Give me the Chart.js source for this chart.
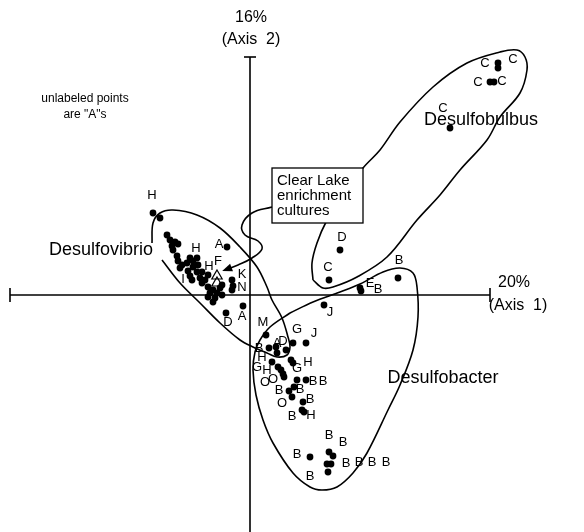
<!DOCTYPE html>
<html>
<head>
<meta charset="utf-8">
<script src="https://cdn.jsdelivr.net/npm/chart.js@4.4.0/dist/chart.umd.min.js"></script>
<style>
  html, body { margin: 0; padding: 0; background: #fff; }
</style>
</head>
<body>
<canvas id="plot" width="584" height="532"></canvas>
<script>
// ordination scores (axis 1 = x, axis 2 = y)
var vibrioX = [-97, -90, -83, -80, -75, -72, -78, -77, -73, -72, -68, -70, -63, -60, -57, -53, -52, -57, -62, -53, -48, -50, -45, -42, -48, -42, -37, -40, -33, -30, -42, -35, -28, -28, -37, -58, -60, -23, -18, -17, -18, -24, -7];
var vibrioY = [82, 77, 60, 55, 53, 51, 49, 45, 39, 34, 30, 27, 32, 37, 34, 37, 30, 28, 24, 23, 23, 17, 15, 20, 12, 8, 5, 2, 2, 7, -2, -3, 0, 10, -7, 15, 19, 48, 15, 9, 5, -18, -11];

var bulbusX = [248, 248, 240, 244, 200, 90, 79, 148, 110, 111, 74];
var bulbusY = [232, 227, 213, 213, 167, 45, 15, 17, 7, 4, -10];

var bacterX = [56, 16, 19, 26, 27, 36, 43, 22, 28, 31, 33, 34, 41, 43, 47, 56, 39, 44, 42, 53, 52, 54, 60, 79, 83, 77, 81, 78];
var bacterY = [-48, -40, -53, -52, -58, -55, -48, -67, -72, -75, -79, -82, -65, -68, -85, -85, -96, -92, -102, -107, -115, -117, -162, -157, -161, -169, -169, -177];

// Clear Lake enrichment cultures (open triangles)
var cultureX = [-33, -33];
var cultureY = [19, 12];

// group letters
var labelText = ['C', 'C', 'C', 'C', 'C', 'D', 'C', 'B', 'E', 'B', 'J',
  'H', 'H', 'A', 'H', 'F', 'K', 'N', 'I', 'D', 'A',
  'M', 'G', 'J', 'B', 'A', 'D', 'H', 'G', 'H', 'G', 'H', 'O', 'O', 'B', 'B', 'B', 'B', 'O', 'B', 'B', 'H',
  'B', 'B', 'B', 'B', 'B', 'B', 'B', 'B'];
var labelX = [235, 263, 228, 252, 193, 92, 78, 149, 120, 128, 80,
  -98, -54, -31, -41, -32, -8, -8, -67, -22, -8,
  13, 47, 64, 9, 27, 33, 12, 7, 17, 47, 58, 15, 23, 63, 73, 29, 50, 32, 60, 42, 61,
  79, 93, 47, 96, 109, 122, 136, 60];
var labelY = [232, 236, 213, 214, 187, 58, 28, 35, 12, 6, -17,
  100, 47, 51, 29, 34, 21, 8, 16, -27, -21,
  -27, -34, -38, -53, -48, -46, -62, -72, -75, -73, -67, -87, -84, -86, -86, -95, -94, -108, -104, -121, -120,
  -140, -147, -159, -168, -167, -167, -167, -181];

// group outlines
var vibrioLineX = [-98, -97, -90, -77, -53, -30, -10, 7, 17, 22, 32, 38, 40, 37, 27, 17, 3, -10, -30, -50, -70, -88];
var vibrioLineY = [52, 72, 82, 85, 80, 67, 48, 28, 8, -5, -23, -42, -52, -60, -62, -58, -52, -45, -28, -8, 12, 35];

var bulbusLineX = [63, 62, 67, 77, 90, 113, 130, 150, 183, 217, 250, 267, 275, 277, 270, 250, 237, 210, 190, 167, 137, 107, 83, 73, 63];
var bulbusLineY = [15, 32, 52, 75, 95, 127, 145, 173, 208, 232, 243, 245, 238, 225, 202, 178, 155, 125, 100, 75, 38, 18, 8, 7, 15];

var bacterLineX = [40, 63, 90, 110, 133, 150, 163, 167, 168, 163, 150, 138, 117, 103, 87, 72, 60, 43, 23, 13, 6, 3, 5, 10, 20, 40];
var bacterLineY = [-18, -7, 3, 11, 23, 27, 22, 8, -22, -55, -90, -115, -158, -178, -192, -195, -192, -178, -148, -125, -100, -75, -57, -45, -32, -18];

var arrowX = [22, 2, -8, -5, 8, 12, 2, -12, -25];
var arrowY = [88, 82, 70, 60, 54, 46, 37, 30, 25];

function pts(xs, ys) {
  return xs.map(function(x, i) { return { x: x, y: ys[i] }; });
}

function line(data, tension) {
  return {
    type: 'scatter',
    data: data,
    showLine: true,
    tension: tension,
    borderColor: '#000',
    borderWidth: 1.6,
    pointRadius: 0,
    fill: false
  };
}

function dots(data) {
  return {
    type: 'scatter',
    data: data,
    backgroundColor: '#000',
    borderColor: '#000',
    pointRadius: 3.4,
    pointBorderWidth: 0
  };
}

var font = '"Liberation Sans", Arial, sans-serif';

var textPlugin = {
  id: 'textPlugin',
  afterDatasetsDraw: function(chart) {
    var ctx = chart.ctx;
    var xs = chart.scales.x, ys = chart.scales.y;
    ctx.save();
    ctx.fillStyle = '#000';
    ctx.textAlign = 'center';
    ctx.textBaseline = 'middle';

    // letters
    ctx.font = '13px ' + font;
    labelText.forEach(function(t, i) {
      ctx.fillText(t, xs.getPixelForValue(labelX[i]), ys.getPixelForValue(labelY[i]));
    });

    // arrow head
    var n = arrowX.length;
    var x1 = xs.getPixelForValue(arrowX[n - 2]), y1 = ys.getPixelForValue(arrowY[n - 2]);
    var x2 = xs.getPixelForValue(arrowX[n - 1]), y2 = ys.getPixelForValue(arrowY[n - 1]);
    var a = Math.atan2(y2 - y1, x2 - x1);
    ctx.beginPath();
    ctx.moveTo(x2 + 3 * Math.cos(a), y2 + 3 * Math.sin(a));
    ctx.lineTo(x2 - 7 * Math.cos(a) + 4 * Math.sin(a), y2 - 7 * Math.sin(a) - 4 * Math.cos(a));
    ctx.lineTo(x2 - 7 * Math.cos(a) - 4 * Math.sin(a), y2 - 7 * Math.sin(a) + 4 * Math.cos(a));
    ctx.closePath();
    ctx.fill();

    // callout box
    ctx.fillStyle = '#fff';
    ctx.fillRect(272, 168, 91, 55);
    ctx.strokeStyle = '#000';
    ctx.lineWidth = 1.3;
    ctx.strokeRect(272, 168, 91, 55);
    ctx.fillStyle = '#000';
    ctx.textAlign = 'left';
    ctx.font = '15px ' + font;
    ctx.fillText('Clear Lake', 277, 181);
    ctx.fillText('enrichment', 277, 196);
    ctx.fillText('cultures', 277, 211);

    // axis titles and notes
    ctx.textAlign = 'center';
    ctx.font = '16px ' + font;
    ctx.fillText('16%', 251, 18);
    ctx.fillText('(Axis  2)', 251, 40);
    ctx.fillText('20%', 514, 283);
    ctx.fillText('(Axis  1)', 518, 306);

    ctx.font = '12px ' + font;
    ctx.fillText('unlabeled points', 85, 99);
    ctx.fillText('are "A"s', 85, 115);

    ctx.font = '18px ' + font;
    ctx.fillText('Desulfobulbus', 481, 120);
    ctx.fillText('Desulfovibrio', 101, 250);
    ctx.fillText('Desulfobacter', 443, 378);
    ctx.restore();
  }
};

var datasets = [
  // axes with end ticks
  line(pts([-240, 240], [0, 0]), 0),
  line(pts([-240, -240], [-7, 7]), 0),
  line(pts([240, 240], [-7, 7]), 0),
  line(pts([0, 0], [238, -237]), 0),
  line(pts([-6, 6], [238, 238]), 0),
  // outlines
  line(pts(vibrioLineX, vibrioLineY), 0.35),
  line(pts(bulbusLineX, bulbusLineY), 0.35),
  line(pts(bacterLineX, bacterLineY), 0.35),
  line(pts(arrowX, arrowY), 0.4),
  // points
  dots(pts(vibrioX, vibrioY)),
  dots(pts(bulbusX, bulbusY)),
  dots(pts(bacterX, bacterY)),
  {
    type: 'scatter',
    data: pts(cultureX, cultureY),
    pointStyle: 'triangle',
    pointRadius: 6,
    backgroundColor: 'rgba(255,255,255,0)',
    borderColor: '#000',
    pointBorderWidth: 1.2
  }
];

new Chart(document.getElementById('plot').getContext('2d'), {
  type: 'scatter',
  data: { datasets: datasets },
  options: {
    responsive: false,
    animation: false,
    devicePixelRatio: 1,
    layout: { padding: 0, autoPadding: false },
    plugins: { legend: { display: false }, tooltip: { enabled: false } },
    scales: {
      x: { type: 'linear', min: -250, max: 334, display: false },
      y: { type: 'linear', min: -237, max: 295, display: false }
    }
  },
  plugins: [textPlugin]
});
</script>
</body>
</html>
